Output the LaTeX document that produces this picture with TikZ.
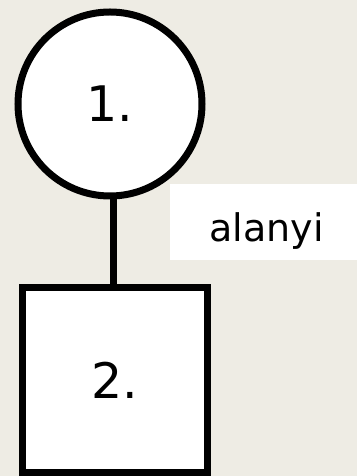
\documentclass[tikz,border=0pt]{standalone}
\usepackage{fontspec}
\setmainfont{DejaVu Sans}
\definecolor{bgbeige}{RGB}{238,236,228}
\tikzset{
  kinbox/.style={draw=black, fill=white, line width=7pt, inner sep=0pt},
  kincircle/.style={kinbox, circle, minimum size=184pt, font=\fontsize{49}{53}\selectfont},
  kinsquare/.style={kinbox, rectangle, minimum size=185pt, font=\fontsize{49}{53}\selectfont},
  kinline/.style={draw=black, line width=7pt},
  tagbox/.style={fill=white, draw=none, rectangle, minimum width=187pt, minimum height=76pt, inner sep=0pt},
  tagtext/.style={font=\fontsize{38}{42}\selectfont, inner sep=0pt, anchor=base}
}
\begin{document}
\begin{tikzpicture}[x=1pt,y=1pt]
  \useasboundingbox (0,0) rectangle (357,476);
  \fill[bgbeige] (0,0) rectangle (357,476);
  \node[kincircle] (circ) at (110,372) {1.};
  \node[kinsquare] (sq) at (115,96) {2.};
  \draw[kinline] (sq.north) ++(-1.5,0) coordinate (lineb) -- (lineb |- circ.south);
  \node[tagbox] (tag) at (263.5,254) {};
  \node[tagtext] (tagt) at (266.5,234) {alanyi};
\end{tikzpicture}
\end{document}
